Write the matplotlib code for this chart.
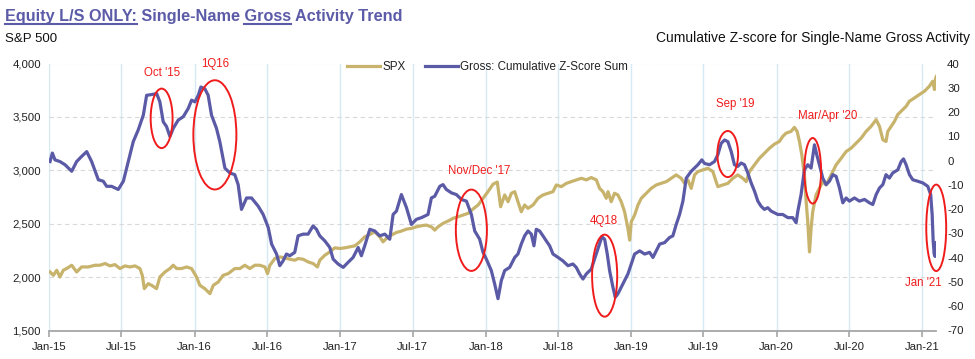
import numpy as np
import pandas as pd
import matplotlib
matplotlib.use("Agg")
import matplotlib.pyplot as plt
import matplotlib.dates as mdates
from matplotlib.patches import Ellipse
from matplotlib.lines import Line2D
from matplotlib.ticker import FuncFormatter, MultipleLocator

plt.rcParams['font.family'] = ['Liberation Sans', 'DejaVu Sans']

# ---------------- data (x in decimal years) ----------------
spx_year = [2015.005, 2015.028, 2015.051, 2015.073, 2015.096, 2015.119, 2015.154, 2015.188, 2015.222, 2015.268,
            2015.314, 2015.348, 2015.383, 2015.417, 2015.451, 2015.486, 2015.520, 2015.554, 2015.589, 2015.623,
            2015.639, 2015.653, 2015.680, 2015.703, 2015.737, 2015.760, 2015.795, 2015.829, 2015.852, 2015.875,
            2015.909, 2015.943, 2015.978, 2016.012, 2016.035, 2016.069, 2016.104, 2016.127, 2016.161, 2016.195,
            2016.230, 2016.275, 2016.310, 2016.344, 2016.378, 2016.413, 2016.447, 2016.482, 2016.500, 2016.516,
            2016.550, 2016.585, 2016.619, 2016.653, 2016.688, 2016.710, 2016.745, 2016.779, 2016.813, 2016.843,
            2016.859, 2016.894, 2016.928, 2016.962, 2016.997, 2017.031, 2017.065, 2017.100, 2017.134, 2017.168,
            2017.203, 2017.237, 2017.271, 2017.294, 2017.317, 2017.351, 2017.386, 2017.420, 2017.455, 2017.489,
            2017.523, 2017.558, 2017.592, 2017.626, 2017.649, 2017.672, 2017.706, 2017.741, 2017.775, 2017.809,
            2017.844, 2017.878, 2017.912, 2017.947, 2017.981, 2018.015, 2018.050, 2018.079, 2018.102, 2018.130,
            2018.153, 2018.176, 2018.199, 2018.221, 2018.244, 2018.267, 2018.290, 2018.325, 2018.359, 2018.393,
            2018.428, 2018.462, 2018.485, 2018.519, 2018.554, 2018.588, 2018.622, 2018.657, 2018.691, 2018.725,
            2018.760, 2018.782, 2018.805, 2018.828, 2018.840, 2018.862, 2018.885, 2018.908, 2018.931, 2018.954,
            2018.977, 2018.989, 2019.000, 2019.023, 2019.046, 2019.069, 2019.103, 2019.137, 2019.172, 2019.206,
            2019.241, 2019.275, 2019.309, 2019.343, 2019.366, 2019.389, 2019.412, 2019.435, 2019.458, 2019.492,
            2019.526, 2019.561, 2019.583, 2019.595, 2019.629, 2019.664, 2019.698, 2019.732, 2019.767, 2019.790,
            2019.812, 2019.847, 2019.881, 2019.915, 2019.950, 2019.984, 2020.018, 2020.041, 2020.064, 2020.098,
            2020.121, 2020.140, 2020.156, 2020.172, 2020.190, 2020.202, 2020.213, 2020.225, 2020.236, 2020.247,
            2020.270, 2020.293, 2020.316, 2020.339, 2020.362, 2020.385, 2020.408, 2020.443, 2020.477, 2020.511,
            2020.546, 2020.580, 2020.614, 2020.648, 2020.683, 2020.706, 2020.729, 2020.751, 2020.763, 2020.786,
            2020.809, 2020.831, 2020.854, 2020.889, 2020.911, 2020.946, 2020.980, 2021.015, 2021.049, 2021.072,
            2021.084, 2021.092, 2021.098]
spx_value = [2048, 2017, 2064, 2001, 2064, 2080, 2111, 2048, 2095, 2095,
             2111, 2111, 2127, 2105, 2117, 2080, 2105, 2095, 2105, 2080,
             2017, 1892, 1939, 1923, 1892, 2001, 2048, 2080, 2111, 2080,
             2080, 2095, 2080, 2001, 1923, 1892, 1845, 1923, 1954, 2017,
             2033, 2080, 2080, 2111, 2080, 2111, 2111, 2095, 2033, 2110,
             2174, 2189, 2180, 2167, 2158, 2174, 2167, 2142, 2127, 2095,
             2158, 2205, 2236, 2274, 2268, 2274, 2283, 2293, 2330, 2377,
             2399, 2424, 2377, 2330, 2362, 2393, 2418, 2431, 2449, 2456,
             2471, 2481, 2487, 2471, 2440, 2471, 2503, 2525, 2550, 2565,
             2581, 2597, 2637, 2675, 2738, 2800, 2870, 2890, 2659, 2769,
             2706, 2785, 2800, 2706, 2612, 2675, 2644, 2675, 2738, 2769,
             2785, 2800, 2863, 2847, 2878, 2894, 2910, 2925, 2910, 2932,
             2910, 2831, 2800, 2738, 2800, 2706, 2785, 2769, 2706, 2612,
             2456, 2346, 2518, 2581, 2675, 2738, 2785, 2831, 2863, 2878,
             2894, 2925, 2957, 2925, 2878, 2910, 2831, 2957, 2988, 3004,
             3019, 2988, 2894, 2847, 2863, 2878, 2925, 2957, 2925, 2894,
             2988, 3051, 3113, 3160, 3207, 3245, 3270, 3317, 3348, 3364,
             3402, 3364, 3270, 3145, 2957, 2706, 2518, 2236, 2456, 2612,
             2769, 2831, 2894, 2863, 2925, 2988, 3051, 3113, 3176, 3207,
             3254, 3301, 3364, 3411, 3474, 3411, 3286, 3270, 3364, 3411,
             3458, 3521, 3552, 3599, 3646, 3677, 3709, 3740, 3787, 3834,
             3756, 3865, 3881]

gross_year = [2015.005, 2015.021, 2015.039, 2015.073, 2015.108, 2015.154, 2015.188, 2015.222, 2015.257, 2015.291,
              2015.337, 2015.371, 2015.394, 2015.428, 2015.474, 2015.509, 2015.543, 2015.577, 2015.611, 2015.646,
              2015.669, 2015.703, 2015.738, 2015.760, 2015.783, 2015.806, 2015.829, 2015.852, 2015.886, 2015.921,
              2015.955, 2015.978, 2016.001, 2016.024, 2016.042, 2016.069, 2016.092, 2016.115, 2016.149, 2016.172,
              2016.207, 2016.241, 2016.275, 2016.298, 2016.321, 2016.356, 2016.390, 2016.436, 2016.470, 2016.505,
              2016.528, 2016.562, 2016.584, 2016.607, 2016.630, 2016.653, 2016.687, 2016.710, 2016.745, 2016.779,
              2016.813, 2016.836, 2016.859, 2016.894, 2016.928, 2016.951, 2016.985, 2017.020, 2017.054, 2017.088,
              2017.123, 2017.145, 2017.168, 2017.203, 2017.237, 2017.271, 2017.306, 2017.340, 2017.363, 2017.386,
              2017.420, 2017.455, 2017.489, 2017.523, 2017.558, 2017.603, 2017.626, 2017.649, 2017.684, 2017.706,
              2017.729, 2017.764, 2017.798, 2017.832, 2017.867, 2017.901, 2017.924, 2017.958, 2017.981, 2018.004,
              2018.038, 2018.061, 2018.084, 2018.107, 2018.130, 2018.164, 2018.199, 2018.221, 2018.244, 2018.267,
              2018.290, 2018.313, 2018.331, 2018.347, 2018.370, 2018.393, 2018.416, 2018.439, 2018.462, 2018.497,
              2018.530, 2018.565, 2018.599, 2018.622, 2018.645, 2018.668, 2018.691, 2018.725, 2018.759, 2018.782,
              2018.798, 2018.817, 2018.835, 2018.851, 2018.874, 2018.890, 2018.908, 2018.931, 2018.954, 2018.977,
              2019.000, 2019.023, 2019.058, 2019.092, 2019.126, 2019.149, 2019.172, 2019.195, 2019.229, 2019.263,
              2019.286, 2019.309, 2019.332, 2019.355, 2019.378, 2019.412, 2019.458, 2019.485, 2019.504, 2019.538,
              2019.572, 2019.595, 2019.618, 2019.641, 2019.664, 2019.687, 2019.709, 2019.732, 2019.755, 2019.778,
              2019.801, 2019.824, 2019.847, 2019.870, 2019.892, 2019.915, 2019.938, 2019.961, 2019.984, 2020.007,
              2020.041, 2020.076, 2020.110, 2020.133, 2020.145, 2020.167, 2020.190, 2020.213, 2020.236, 2020.259,
              2020.275, 2020.293, 2020.316, 2020.339, 2020.362, 2020.385, 2020.408, 2020.431, 2020.454, 2020.477,
              2020.499, 2020.534, 2020.568, 2020.603, 2020.637, 2020.660, 2020.683, 2020.706, 2020.729, 2020.751,
              2020.774, 2020.797, 2020.832, 2020.855, 2020.871, 2020.889, 2020.912, 2020.935, 2020.969, 2021.004,
              2021.038, 2021.058, 2021.068, 2021.075, 2021.082, 2021.088, 2021.094, 2021.098]
gross_value = [-0.4, 3.1, 0.3, -0.4, -1.7, -4.4, -0.4, 1.7, 3.7, -0.4,
               -7.9, -8.5, -10.6, -10.6, -11.9, -8.5, -0.4, 7.8, 12.6, 18.7,
               26.9, 27.2, 27.6, 24.2, 16.0, 14.0, 9.9, 13.3, 16.7, 18.1,
               21.5, 24.9, 24.2, 26.9, 30.3, 29.6, 26.9, 18.7, 13.3, 7.8,
               -3.1, -5.1, -5.8, -9.9, -20.1, -15.4, -15.4, -18.8, -22.2, -27.6,
               -34.4, -38.5, -43.3, -41.3, -38.5, -39.2, -37.8, -31.0, -30.3, -30.3,
               -26.9, -28.3, -31.0, -33.1, -35.8, -40.6, -42.6, -44.0, -41.9, -39.9,
               -35.8, -39.2, -35.1, -28.3, -29.0, -31.0, -30.3, -32.4, -22.2, -20.8,
               -14.0, -19.4, -26.3, -24.2, -23.5, -22.2, -15.4, -14.7, -10.6, -9.9,
               -11.9, -13.3, -14.0, -16.0, -16.7, -22.2, -29.0, -32.4, -37.8, -40.6,
               -45.3, -50.8, -56.9, -49.4, -45.3, -44.0, -39.9, -38.5, -34.4, -31.0,
               -29.0, -30.3, -35.1, -28.3, -29.0, -31.0, -33.1, -35.1, -38.5, -39.9,
               -41.3, -43.3, -42.6, -44.0, -46.7, -48.8, -46.7, -44.7, -38.5, -34.4,
               -31.4, -32.4, -38.5, -45.3, -52.2, -56.3, -54.9, -52.2, -49.4, -46.7,
               -42.6, -38.5, -37.2, -38.5, -37.8, -39.9, -37.2, -34.4, -33.8, -31.7,
               -31.0, -26.3, -22.2, -16.7, -7.2, -4.4, -1.7, 0.3, -1.2, -1.7,
               -0.4, 2.4, 7.1, 8.5, 7.8, 3.7, -1.7, -2.4, -1.0, -1.7,
               -5.1, -9.2, -12.6, -16.7, -18.8, -20.1, -19.4, -20.8, -21.5, -22.2,
               -22.2, -23.5, -23.5, -25.6, -20.8, -14.0, -3.8, -1.7, -3.1, 6.5,
               2.4, -1.7, -7.2, -9.9, -8.5, -5.8, -6.5, -11.3, -17.4, -15.4,
               -16.7, -15.4, -16.7, -16.0, -17.4, -18.1, -14.0, -11.3, -9.9, -5.8,
               -7.2, -5.1, -3.8, -0.4, 0.7, -1.7, -5.8, -7.9, -8.5, -9.2,
               -10.6, -14.0, -22.2, -33.1, -38.5, -39.5, -35.8, -33.8]

# annotations: label, ellipse centre (decimal year, z), ellipse size (days, z), label position (decimal year, z)
ann_labels = ["Oct '15", "1Q16", "Nov/Dec '17", "4Q18", "Sep '19", "Mar/Apr '20", "Jan '21"]
ann_center = [(2015.772, 17.4), (2016.138, 10.6), (2017.901, -28.7), (2018.817, -47.4),
              (2019.663, 2.7), (2020.247, -4.2), (2021.096, -27.7)]
ann_size = [(55, 24.5), (108, 45), (78, 33.5), (63, 33.8), (52, 19), (42, 27), (50, 35.6)]
ann_text = [(2015.772, 36.2), (2016.138, 39.9), (2017.955, -4.2), (2018.810, -24.7),
            (2019.717, 23.2), (2020.350, 18.3), (2021.008, -50.4)]

spx_label = "SPX"
gross_label = "Gross: Cumulative Z-Score Sum"


def to_dates(years):
    y = np.asarray(years, dtype=float)
    return pd.Timestamp("2015-01-01") + pd.to_timedelta((y - 2015.0) * 365.25, unit="D")


spx_dates = to_dates(spx_year)
gross_dates = to_dates(gross_year)

# ---------------- figure ----------------
W, H = 975, 359
fig = plt.figure(figsize=(W / 100, H / 100), dpi=100)
ax_l, ax_r, ax_b, ax_t = 49.3, 936.0, 330.5, 63.5
ax = fig.add_axes([ax_l / W, 1 - ax_b / H, (ax_r - ax_l) / W, (ax_b - ax_t) / H])
ax2 = ax.twinx()

SPX_C = '#c8b36c'
GROSS_C = '#5b5aa6'
RED = '#f01c1c'

l1, = ax.plot(spx_dates, spx_value, color=SPX_C, lw=2.3, label=spx_label, solid_joinstyle='round')
l2, = ax2.plot(gross_dates, gross_value, color=GROSS_C, lw=2.3, label=gross_label, solid_joinstyle='round')

ax.set_ylim(1500, 4000)
ax2.set_ylim(-70, 40)
ax.set_xlim(pd.Timestamp("2015-01-01"), pd.Timestamp("2021-02-04"))

ax.yaxis.set_major_locator(MultipleLocator(500))
ax.yaxis.set_major_formatter(FuncFormatter(lambda v, p: f"{int(v):,}"))
ax2.yaxis.set_major_locator(MultipleLocator(10))
ax2.yaxis.set_major_formatter(FuncFormatter(lambda v, p: f"{int(round(v))}"))

ax.xaxis.set_major_locator(mdates.MonthLocator(bymonth=[1, 7]))
ax.xaxis.set_major_formatter(mdates.DateFormatter('%b-%y'))

for a in (ax, ax2):
    for s in ('top', 'left', 'right'):
        a.spines[s].set_visible(False)
ax2.spines['bottom'].set_visible(False)
ax.spines['bottom'].set_color('#a6a6a6')
ax.spines['bottom'].set_linewidth(1.3)

ax.tick_params(axis='x', colors='#a6a6a6', length=4, width=1.2, labelsize=8.2, labelcolor='#222222', pad=4)
ax.tick_params(axis='y', length=0, labelsize=8.2, labelcolor='#222222', pad=6)
ax2.tick_params(axis='y', length=0, labelsize=8.2, labelcolor='#222222', pad=8)

ax.grid(axis='y', color='#d9d9d9', linestyle=(0, (4, 3)), lw=0.8)
ax.grid(axis='x', color='#d5eaf3', linestyle='-', lw=1.0)
ax.set_axisbelow(True)

# annotations
for lab, c, sz, tp in zip(ann_labels, ann_center, ann_size, ann_text):
    cx = mdates.date2num(to_dates([c[0]])[0])
    e = Ellipse((cx, c[1]), sz[0], sz[1], fill=False, edgecolor=RED, lw=1.4,
                transform=ax2.transData, clip_on=False, zorder=5)
    ax2.add_patch(e)
    tx = mdates.date2num(to_dates([tp[0]])[0])
    ax2.text(tx, tp[1], lab, color=RED, fontsize=8.3, ha='center', va='center', zorder=6, clip_on=False)

# legend
leg = ax2.legend(handles=[l1, l2], loc='center left', bbox_to_anchor=((347 - ax_l) / (ax_r - ax_l), (ax_b - 66.7) / (ax_b - ax_t)),
                 ncol=2, frameon=False, fontsize=8.4, handlelength=2.8, handletextpad=0.2,
                 columnspacing=1.7, borderpad=0, borderaxespad=0)
for t in leg.get_texts():
    t.set_color('#222222')

# ---------------- titles ----------------
TITLE_C = '#5b5ba8'
TITLE_FS = 11.7
title_full = "Equity L/S ONLY: Single-Name Gross Activity Trend"
tx0, tbase = 5 / W, 1 - 21 / H
fig.text(tx0, tbase, title_full, fontsize=TITLE_FS, fontweight='bold', color=TITLE_C, va='baseline', ha='left')

renderer = fig.canvas.get_renderer()


def measure(s):
    t = fig.text(tx0, tbase, s, fontsize=TITLE_FS, fontweight='bold', va='baseline', ha='left', alpha=0)
    bb = t.get_window_extent(renderer=renderer)
    t.remove()
    return bb


ul_y = 1 - 24 / H
bb1 = measure("Equity L/S ONLY:")
fig.add_artist(Line2D([bb1.x0 / W, bb1.x1 / W], [ul_y, ul_y], color=TITLE_C, lw=1.5, transform=fig.transFigure))
bb2 = measure("Equity L/S ONLY: Single-Name Gross")
bb3 = measure("Gross")
gx1 = bb2.x1
gx0 = gx1 - bb3.width
fig.add_artist(Line2D([gx0 / W, gx1 / W], [ul_y, ul_y], color=TITLE_C, lw=1.5, transform=fig.transFigure))

fig.text(5 / W, 1 - 41.7 / H, "S&P 500", fontsize=9.5, color='#111111', va='baseline', ha='left')
fig.text(970 / W, 1 - 42 / H, "Cumulative Z-score for Single-Name Gross Activity", fontsize=10,
         color='#111111', va='baseline', ha='right')

fig.savefig("out.png", dpi=100)
